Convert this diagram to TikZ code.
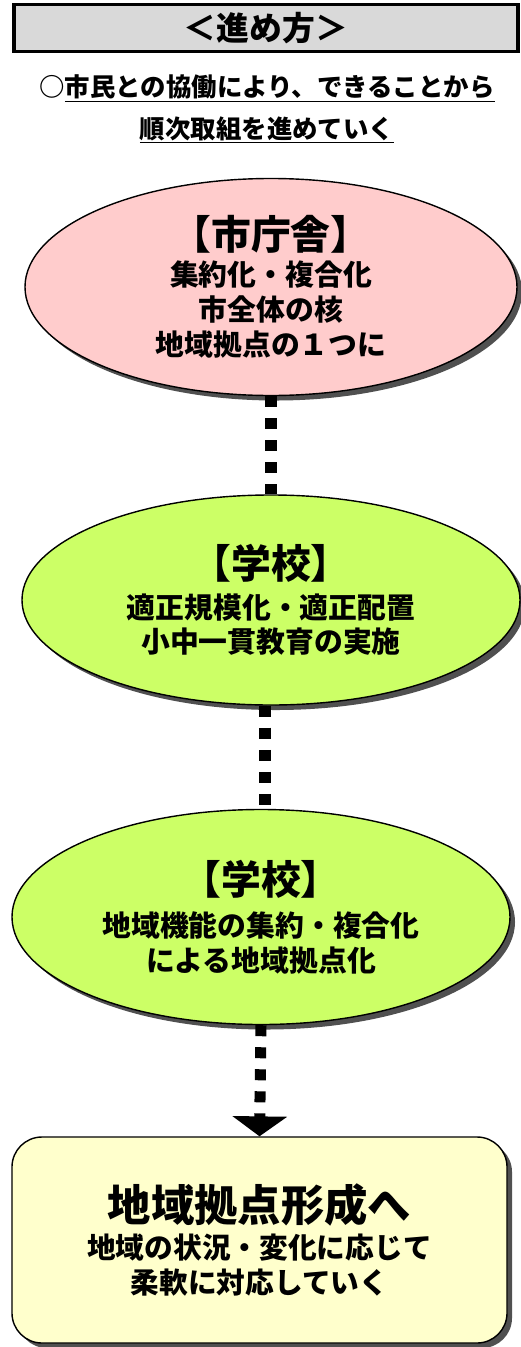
\documentclass[tikz,border=0pt]{standalone}
\usepackage{fontspec}
\setmainfont{Noto Sans CJK JP}
\usepackage{tikz}
\usetikzlibrary{arrows.meta,positioning,shapes,shadows}
\definecolor{titlegray}{HTML}{D9D9D9}
\definecolor{cityred}{HTML}{FFCCCC}
\definecolor{schoolgreen}{HTML}{CCFF66}
\definecolor{goalyellow}{HTML}{FFFFCC}
\definecolor{shadowgray}{HTML}{505050}

\begin{document}
\begin{tikzpicture}[x=0.03cm, y=-0.03cm, font=\bfseries,
  bubble/.style={ellipse, draw=black, line width=1.2pt, inner sep=0pt, align=center,
    font=\bfseries\fontsize{24.6}{29.8}\selectfont,
    drop shadow={shadow xshift=1.5mm, shadow yshift=-1.5mm, fill=shadowgray, opacity=1}},
  dotline/.style={line width=9.4pt, dash pattern=on 9.4pt off 9.4pt}]
  \useasboundingbox (0,0) rectangle (520,1347);

  % titulo
  \node[draw=black, line width=2.6pt, fill=titlegray, minimum width=15.12cm, minimum height=1.41cm,
    font=\bfseries\fontsize{28}{32}\selectfont] (T) at (266, 28) {＜進め方＞};
  \node[align=center, font=\bfseries\fontsize{21.7}{35.7}\selectfont] (S) at (267, 109)
    {○\underline{市民との協働により、できることから}\\\underline{順次取組を進めていく}};

  % etapas
  \node[bubble, fill=cityred, minimum width=14.76cm, minimum height=6.51cm] (A) at (271, 287)
    {{\fontsize{34}{36}\selectfont 【市庁舎】}\\[1pt]集約化・複合化\\市全体の核\\地域拠点の１つに};
  \node[bubble, fill=schoolgreen, minimum width=14.94cm, minimum height=6.3cm] (B) at (271, 600)
    {{\fontsize{34}{36}\selectfont 【学校】}\\[4pt]適正規模化・適正配置\\小中一貫教育の実施};
  \node[bubble, fill=schoolgreen, minimum width=14.94cm, minimum height=6.45cm] (C) at (261, 917)
    {{\fontsize{34}{36}\selectfont 【学校】}\\[6pt]地域機能の集約・複合化\\による地域拠点化};
  \node[draw=black, line width=1.2pt, fill=goalyellow, rounded corners=0.9cm, align=center,
    minimum width=14.85cm, minimum height=6.18cm, font=\bfseries\fontsize{24.5}{29.6}\selectfont,
    drop shadow={shadow xshift=1.5mm, shadow yshift=-1.5mm, fill=shadowgray, opacity=1}] (D) at (259.5, 1240)
    {{\fontsize{37}{40}\selectfont 地域拠点形成へ}\\[2pt]地域の状況・変化に応じて\\柔軟に対応していく};

  % conexiones
  \draw[dotline] (A.south) -- (B.north);
  \draw[dotline] (B.south -| 265,0) -- (C.north -| 265,0);
  \draw[dotline, -{Triangle[width=46pt, length=17pt]}] (C.south) -- (D.north);
\end{tikzpicture}
\end{document}
